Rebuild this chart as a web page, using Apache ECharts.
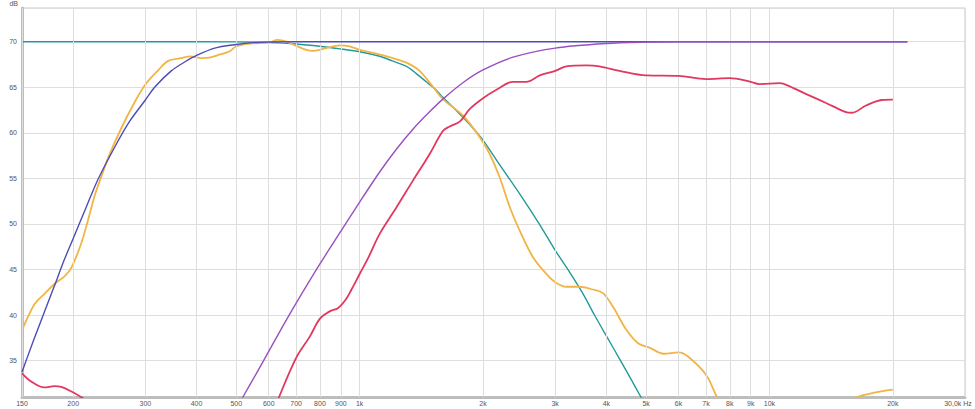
<!DOCTYPE html>
<html>
<head>
<meta charset="utf-8">
<script src="https://cdn.jsdelivr.net/npm/echarts@6/dist/echarts.min.js"></script>
<style>
html,body{margin:0;padding:0;background:#fff;}
#chart{width:975px;height:409px;}
</style>
</head>
<body>
<div id="chart"></div>
<script>
// ---- Data (frequency in Hz, level in dB) ----
const gridFreqs = [150, 200, 300, 400, 500, 600, 700, 800, 900, 1000, 2000, 3000, 4000, 5000, 6000, 7000, 8000, 9000, 10000, 20000, 30000];
const gridLabels = ['150', '200', '300', '400', '500', '600', '700', '800', '900', '1k', '2k', '3k', '4k', '5k', '6k', '7k', '8k', '9k', '10k', '20k', '30,0k Hz'];

const tealFreq = [150, 300, 500, 600, 700, 800, 900, 1000, 1119, 1200, 1301, 1349, 1454, 1537, 1596, 1700, 1786, 1900, 2000, 2195, 2458, 2752, 3000, 3233, 3500, 3741, 4000, 4331, 4600, 4856, 5000];
const tealDb   = [70, 70, 69.98, 69.9, 69.75, 69.5, 69.2, 68.9, 68.4, 67.9, 67.3, 66.8, 65.6, 64.7, 63.9, 62.7, 61.7, 60.4, 59.2, 56.5, 53.3, 49.9, 47.1, 44.9, 42.4, 40.0, 37.7, 35.0, 32.9, 31.0, 30.0];

const blueFreq = [150, 160, 170, 180, 190, 200, 215, 230, 253, 275, 300, 316, 347, 375, 400, 443, 500, 548, 600, 700, 21700];
const blueDb   = [33.75, 37.2, 40.3, 43.2, 46.0, 48.4, 51.8, 54.9, 58.5, 61.3, 63.6, 65.0, 66.8, 67.8, 68.5, 69.3, 69.7, 69.9, 69.97, 70, 70];

const purpleFreq = [500, 519, 560, 600, 650, 700, 800, 900, 1000, 1119, 1229, 1349, 1481, 1596, 1786, 2000, 2367, 3000, 4000, 5000, 6000, 21700];
const purpleDb   = [29.7, 31.0, 33.6, 36.0, 38.8, 41.3, 45.6, 49.2, 52.4, 55.7, 58.2, 60.4, 62.3, 63.7, 65.5, 66.9, 68.3, 69.3, 69.8, 69.95, 70, 70];

const yellowFreq = [150, 161, 170, 180, 191, 198, 209, 217, 226, 236, 243, 262, 282, 300, 323, 341, 367, 386, 411, 430, 456, 482, 500, 539, 600, 631, 663, 700, 741, 769, 800, 829, 894, 945, 1000, 1098, 1206, 1301, 1400, 1500, 1596, 1786, 1962, 2075, 2195, 2324, 2458, 2648, 2856, 3000, 3195, 3445, 3706, 3923, 4152, 4471, 4779, 5110, 5517, 6000, 6325, 7000, 7442, 7800, 12000, 15500, 16400, 17900, 20000];
const yellowDb   = [38.3, 41.2, 42.3, 43.4, 44.3, 45.2, 47.8, 50.3, 53.2, 55.6, 57.2, 60.5, 63.3, 65.3, 66.9, 67.9, 68.2, 68.4, 68.2, 68.25, 68.6, 68.95, 69.5, 69.8, 69.9, 70.2, 70.0, 69.55, 69.1, 69.0, 69.1, 69.3, 69.6, 69.5, 69.1, 68.7, 68.2, 67.7, 66.8, 65.2, 63.7, 61.9, 59.55, 57.7, 55.15, 51.85, 49.25, 46.35, 44.5, 43.6, 43.1, 43.1, 42.8, 42.4, 40.9, 38.4, 36.9, 36.4, 35.75, 35.9, 35.45, 33.45, 31.0, 29.5, null, 30.3, 31.0, 31.45, 31.8];

const redFreq = [150, 158, 170, 180, 187, 198, 209, 220, 400, 600, 636, 700, 755, 800, 845, 885, 928, 954, 1000, 1050, 1119, 1229, 1349, 1481, 1596, 1658, 1757, 1855, 2000, 2152, 2367, 2548, 2752, 3000, 3195, 3576, 3845, 4307, 5000, 6000, 7000, 8000, 9000, 9440, 10600, 11200, 12300, 13700, 15300, 15900, 17200, 18800, 20000];
const redDb   = [33.6, 32.7, 32.05, 32.2, 32.1, 31.6, 31.0, 30.3, null, 28.0, 31.0, 35.3, 37.6, 39.6, 40.4, 40.75, 41.8, 42.75, 44.5, 46.3, 48.9, 51.8, 54.75, 57.65, 60.2, 60.7, 61.25, 62.6, 63.8, 64.7, 65.6, 65.6, 66.3, 66.8, 67.3, 67.4, 67.3, 66.8, 66.3, 66.25, 65.9, 66.0, 65.6, 65.35, 65.45, 65.1, 64.25, 63.3, 62.3, 62.2, 63.0, 63.6, 63.65];

function pairs(fs, ds) {
  return fs.map((f, i) => [f, ds[i] === null ? '-' : ds[i]]);
}

const chart = echarts.init(document.getElementById('chart'), null, { renderer: 'svg' });

const labelFont = { fontFamily: 'Liberation Sans, Arial, sans-serif', fontSize: 7, color: '#555555' };

function curve(name, fs, ds, color, width, z, smooth) {
  return {
    name: name,
    type: 'line',
    data: pairs(fs, ds),
    showSymbol: false,
    symbol: 'none',
    smooth: smooth,
    connectNulls: false,
    clip: true,
    z: z,
    color: color,
    lineStyle: { color: color, width: width },
    emphasis: { disabled: true }
  };
}

const gridMarks = gridFreqs.map((f, i) => {
  const item = { xAxis: f, name: gridLabels[i] };
  if (i === gridFreqs.length - 1) {
    item.label = { offset: [-7, 0] };
  }
  return item;
});

const option = {
  backgroundColor: '#ffffff',
  animation: false,
  grid: { left: 22, right: 10, top: 7, bottom: 12, show: true, borderColor: '#c8c8c8', borderWidth: 1, backgroundColor: 'transparent' },
  xAxis: {
    type: 'log',
    logBase: 10,
    min: 150,
    max: 30000,
    axisLine: { show: true, lineStyle: { color: '#bdbdbd', width: 3 } },
    axisTick: { show: false },
    axisLabel: { show: false },
    splitLine: { show: false }
  },
  yAxis: {
    type: 'value',
    min: 31,
    max: 73.7,
    splitNumber: 8,
    name: 'dB',
    nameLocation: 'end',
    nameGap: 1,
    nameTextStyle: Object.assign({}, labelFont, { align: 'right', padding: [0, 4, 0, 0] }),
    axisLine: { show: true, lineStyle: { color: '#bdbdbd', width: 3 } },
    axisTick: { show: false },
    axisLabel: Object.assign({}, labelFont, { margin: 5, showMinLabel: false, showMaxLabel: false }),
    splitLine: { show: true, lineStyle: { color: '#dedede', width: 1 } }
  },
  series: [
    {
      name: 'grid',
      type: 'line',
      data: [],
      z: 1,
      silent: true,
      color: '#555555',
      markLine: {
        silent: true,
        symbol: ['none', 'none'],
        animation: false,
        itemStyle: { color: '#555555' },
        lineStyle: { color: '#dedede', width: 1, type: 'solid' },
        label: Object.assign({}, labelFont, { show: true, position: 'start', formatter: '{b}', distance: 3, textBorderWidth: 0 }),
        emphasis: { disabled: true },
        data: gridMarks
      }
    },
    curve('teal', tealFreq, tealDb, '#22999b', 1.4, 3, 0.3),
    curve('yellow', yellowFreq, yellowDb, '#f2b444', 1.8, 4, 0.35),
    curve('red', redFreq, redDb, '#e2385f', 1.8, 5, 0.35),
    curve('blue', blueFreq, blueDb, '#4c4cb8', 1.4, 6, 0.3),
    curve('purple', purpleFreq, purpleDb, '#9a4fc2', 1.4, 7, 0.3)
  ]
};
chart.setOption(option);
</script>
</body>
</html>
